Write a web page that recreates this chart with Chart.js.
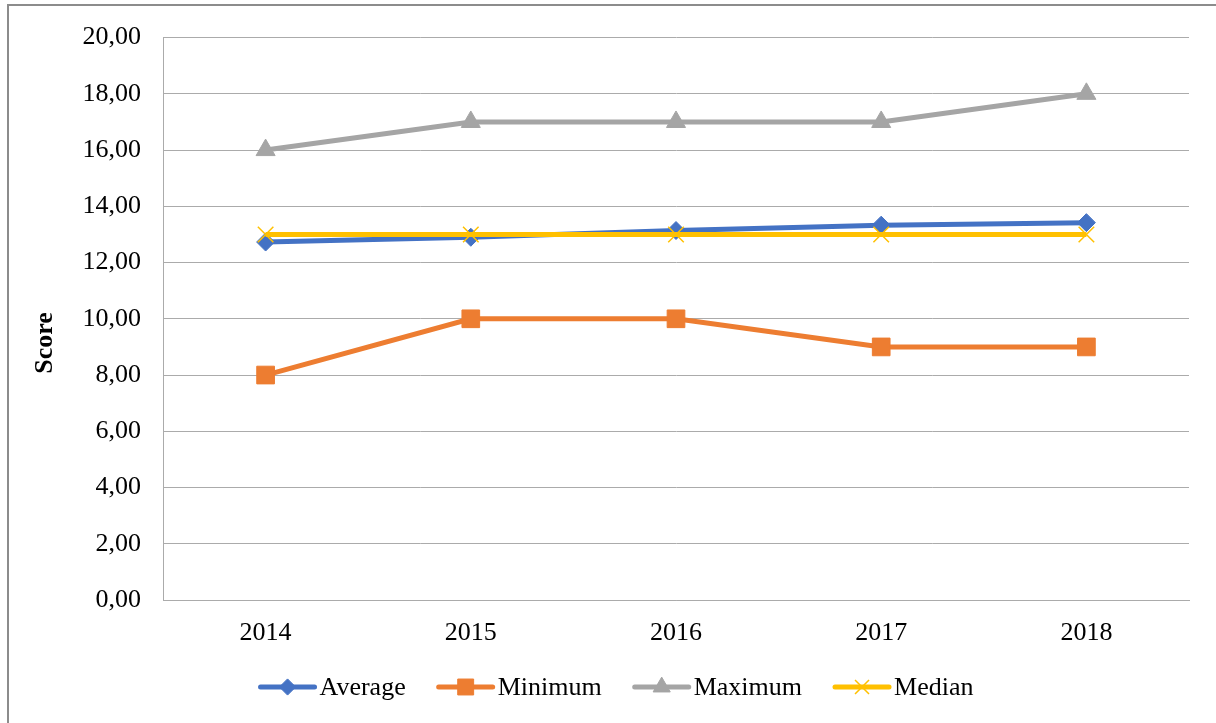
<!DOCTYPE html>
<html>
<head>
<meta charset="utf-8">
<script src="https://cdn.jsdelivr.net/npm/chart.js"></script>
<style>
  body { margin: 0; background: #fff; }
  #frame { position: absolute; left: 7px; top: 4px; width: 1300px; height: 800px;
           border-left: 2px solid #8c8c8c; border-top: 2px solid #8c8c8c; }
  #wrap { position: absolute; left: 0; top: 0; width: 1216px; height: 723px; }
</style>
</head>
<body>
<div id="frame"></div>
<div id="wrap"><canvas id="myChart"></canvas></div>
<script>
  // data
  const years = ["2014", "2015", "2016", "2017", "2018"];
  const average = [12.73, 12.9, 13.14, 13.33, 13.42];
  const minimum = [8, 10, 10, 9, 9];
  const maximum = [16, 17, 17, 17, 18];
  const median = [13, 13, 13, 13, 13];
  const yTicks = [0, 2, 4, 6, 8, 10, 12, 14, 16, 18, 20];
  const yTitle = "Score";

  const serif = "'Liberation Serif', 'Times New Roman', serif";
  const gridColor = "#ababab";

  const datasets = [
    { label: "Average", data: average, borderColor: "#4472C4", backgroundColor: "#4472C4",
      pointStyle: "rectRot", pointRadius: 9, pointBorderWidth: 1, order: 4 },
    { label: "Minimum", data: minimum, borderColor: "#ED7D31", backgroundColor: "#ED7D31",
      pointStyle: "rect", pointRadius: 12.5, pointBorderWidth: 1, order: 3 },
    { label: "Maximum", data: maximum, borderColor: "#A5A5A5", backgroundColor: "#A5A5A5",
      pointStyle: "triangle", pointRadius: 11, pointBorderWidth: 1, order: 2 },
    { label: "Median", data: median, borderColor: "#FFC000", backgroundColor: "#FFC000",
      pointStyle: "crossRot", pointRadius: 11, pointBorderWidth: 1.5, order: 1 },
  ];
  datasets.forEach(d => {
    d.borderWidth = 5;
    d.tension = 0;
    d.pointHoverRadius = d.pointRadius;
    d.pointBackgroundColor = d.backgroundColor;
    d.pointBorderColor = d.borderColor;
  });

  // axis title sits a bit below the middle in the original, so draw it by hand
  const yTitlePlugin = {
    id: "yTitlePlugin",
    afterDraw(chart) {
      const ctx = chart.ctx;
      ctx.save();
      ctx.translate(45, 343);
      ctx.rotate(-Math.PI / 2);
      ctx.font = "bold 26px " + serif;
      ctx.fillStyle = "#000";
      ctx.textAlign = "center";
      ctx.textBaseline = "middle";
      ctx.fillText(yTitle, 0, 0);
      ctx.restore();
    }
  };

  // legend drawn as line + marker like the original
  const lineLegend = {
    id: "lineLegend",
    afterDraw(chart) {
      const ctx = chart.ctx;
      const y = 687;
      ctx.save();
      ctx.font = "26px " + serif;
      const items = datasets.map(d => ({ d, w: 58 + 3 + ctx.measureText(d.label).width }));
      const gap = 31;
      const total = items.reduce((s, it) => s + it.w, 0) + gap * (items.length - 1);
      let x = 616 - total / 2;
      items.forEach(({ d, w }) => {
        ctx.strokeStyle = d.borderColor;
        ctx.lineWidth = 5;
        ctx.lineCap = "round";
        ctx.beginPath();
        ctx.moveTo(x + 2, y);
        ctx.lineTo(x + 56, y);
        ctx.stroke();
        ctx.fillStyle = d.backgroundColor;
        ctx.lineWidth = d.pointBorderWidth;
        ctx.lineCap = "butt";
        Chart.helpers.drawPoint(ctx, {
          pointStyle: d.pointStyle, radius: d.pointRadius * 0.9,
          rotation: 0, borderWidth: d.pointBorderWidth
        }, x + 29, y);
        ctx.fillStyle = "#000";
        ctx.textBaseline = "middle";
        ctx.textAlign = "left";
        ctx.fillText(d.label, x + 61, y + 1);
        x += w + gap;
      });
      ctx.restore();
    }
  };

  const config = {
    type: "line",
    data: { labels: years, datasets: datasets },
    options: {
      responsive: true,
      maintainAspectRatio: false,
      animation: false,
      layout: { padding: { top: 37, right: 27, left: 0, bottom: 0 } },
      plugins: {
        legend: { display: false },
        tooltip: { enabled: false }
      },
      scales: {
        x: {
          offset: true,
          grid: { display: false, drawTicks: false },
          border: { display: true, color: gridColor, width: 1 },
          ticks: { color: "#000", padding: 18, font: { family: serif, size: 26 } },
          afterFit(scale) { scale.height = 123; }
        },
        y: {
          min: 0,
          max: 20,
          afterBuildTicks(scale) { scale.ticks = yTicks.map(v => ({ value: v })); },
          grid: { color: gridColor, lineWidth: 1, drawTicks: false },
          border: { display: true, color: gridColor, width: 1 },
          ticks: {
            color: "#000", padding: 22, font: { family: serif, size: 26 },
            callback: v => v.toFixed(2).replace(".", ",")
          },
          afterFit(scale) { scale.width = 163; }
        }
      }
    },
    plugins: [yTitlePlugin, lineLegend]
  };

  var myChart = new Chart(document.getElementById("myChart"), config);
</script>
</body>
</html>
